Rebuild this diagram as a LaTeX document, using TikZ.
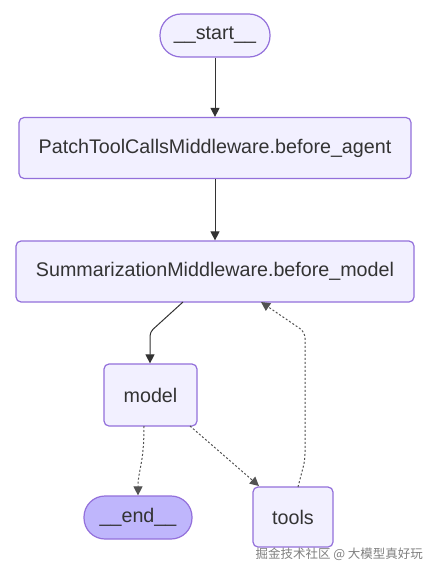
\documentclass[tikz,border=0pt]{standalone}
\usepackage{fontspec}
\setmainfont{Liberation Sans}
\newfontfamily\cjk{Noto Sans CJK SC}
\usetikzlibrary{arrows.meta}
\definecolor{nodefill}{HTML}{F2F0FF}
\definecolor{nodeline}{HTML}{9370DB}
\definecolor{endfill}{HTML}{BFB6FC}
\definecolor{txt}{HTML}{333333}
\definecolor{edge}{HTML}{333333}
\begin{document}
\begin{tikzpicture}[x=1pt,y=-1pt,
  box/.style={draw=nodeline, fill=nodefill, line width=1.2pt, rounded corners=5pt,
    text=txt, font=\fontsize{19.7}{22}\selectfont, inner sep=0pt},
  pill/.style={box, rounded corners=21pt},
  solidedge/.style={draw=edge, line width=1pt, -{Triangle[length=9pt,width=9pt]}},
  dotedge/.style={draw=edge!85, line width=1pt, dash pattern=on 2pt off 2pt, -{Triangle[length=9pt,width=9pt]}},
  wmark/.style={text=gray, font=\cjk\fontsize{12.5}{14}\selectfont}
]
\useasboundingbox[fill=white] (0,0) rectangle (436,575);
\node[pill, minimum width=110pt, minimum height=43pt] (start) at (215,35.5) {\_\_start\_\_};
\node[box, minimum width=392pt, minimum height=61pt] (patch) at (215,148) {PatchToolCallsMiddleware.before\_agent};
\node[box, minimum width=398pt, minimum height=61pt] (summ) at (215,271.5) {SummarizationMiddleware.before\_model};
\node[box, minimum width=93pt, minimum height=62pt] (model) at (150.5,395) {model};
\node[pill, fill=endfill, minimum width=108pt, minimum height=43pt] (end) at (138,517.5) {\_\_end\_\_};
\node[box, minimum width=80pt, minimum height=60pt] (tools) at (293,517) {tools};
\node[wmark, anchor=west] (wm) at (252,554) {掘金技术社区 @ 大模型真好玩};
\coordinate (c1) at (150,332);
\coordinate (c2) at (305,332);
\draw[solidedge] (start.south) -- (patch.north);
\draw[solidedge] (patch.south) -- (summ.north);
\draw[solidedge, rounded corners=4pt] (183,302) -- (c1) -- (model.north -| c1);
\draw[dotedge] (144,426) .. controls (144,465) and (138,470) .. (end.north);
\draw[dotedge] (190,426) -- (259,486);
\draw[dotedge, rounded corners=6pt] (298,487) -- (305,460) -- (c2) -- (261,302);
\end{tikzpicture}
\end{document}
